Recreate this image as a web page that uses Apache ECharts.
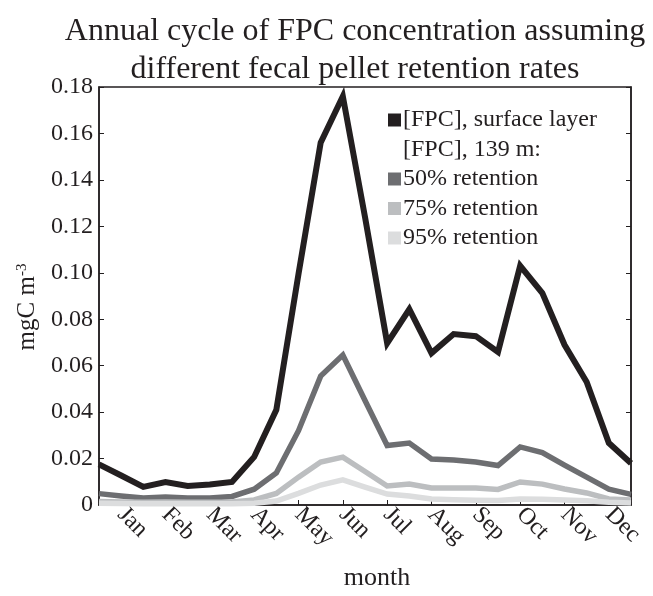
<!DOCTYPE html>
<html>
<head>
<meta charset="utf-8">
<script src="https://cdn.jsdelivr.net/npm/echarts@6/dist/echarts.min.js"></script>
<style>
  html, body { margin: 0; padding: 0; background: #fff; }
  #chart { width: 653px; height: 596px; }
</style>
</head>
<body>
<div id="chart"></div>
<script>
// half-month time steps (month number)
const time = [0.5, 1, 1.5, 2, 2.5, 3, 3.5, 4, 4.5, 5, 5.5, 6, 6.5, 7, 7.5, 8, 8.5, 9, 9.5, 10, 10.5, 11, 11.5, 12, 12.5]
const months = ['Jan', 'Feb', 'Mar', 'Apr', 'May', 'Jun', 'Jul', 'Aug', 'Sep', 'Oct', 'Nov', 'Dec']
const monthTicks = [1, 2, 3, 4, 5, 6, 7, 8, 9, 10, 11, 12]

const surface = [0.0175, 0.0127, 0.0078, 0.0099, 0.0082, 0.0088, 0.0099, 0.0207, 0.041, 0.0995, 0.156, 0.176, 0.124,
  0.0697, 0.0843, 0.0654, 0.0736, 0.0727, 0.0659, 0.103, 0.0913, 0.069, 0.053, 0.0267, 0.018]
const retain50 = [0.0049, 0.0039, 0.003, 0.0034, 0.003, 0.003, 0.0037, 0.0068, 0.0138, 0.032, 0.0555, 0.0646, 0.045,
  0.0256, 0.0267, 0.0198, 0.0194, 0.0185, 0.017, 0.025, 0.0226, 0.0172, 0.012, 0.0068, 0.0046]
const retain75 = [0.0015, 0.0013, 0.0012, 0.0013, 0.0012, 0.0012, 0.0013, 0.0022, 0.005, 0.012, 0.0185, 0.0206, 0.0144,
  0.0082, 0.009, 0.0073, 0.0073, 0.0073, 0.0067, 0.0099, 0.009, 0.0069, 0.0052, 0.0026, 0.0022]
const retain95 = [0.0007, 0.0006, 0.0005, 0.0005, 0.0005, 0.0005, 0.0005, 0.0008, 0.0017, 0.005, 0.0086, 0.0108, 0.0077,
  0.0047, 0.0039, 0.0026, 0.0023, 0.002, 0.0019, 0.0026, 0.0025, 0.0022, 0.0018, 0.0012, 0.0009]

const seriesNames = ['[FPC], surface layer', '[FPC], 139 m:', '50% retention', '75% retention', '95% retention']
const colors = ['#231f20', 'rgba(0,0,0,0)', '#6d6e71', '#bcbec0', '#dcddde']

const font = 'Liberation Serif'
const ink = '#231f20'

function pairs(ys) {
  return time.map((t, i) => [t, ys[i]])
}

const chart = echarts.init(document.getElementById('chart'), null, { renderer: 'canvas' })

const lineSeries = (name, ys, color, width) => ({
  name: name,
  type: 'line',
  data: pairs(ys),
  showSymbol: false,
  symbol: 'none',
  lineStyle: { color: color, width: width, join: 'miter' },
  itemStyle: { color: color },
  animation: false
})

chart.setOption({
  backgroundColor: '#fff',
  title: {
    text: 'Annual cycle of FPC concentration assuming\ndifferent fecal pellet retention rates',
    left: 350,
    textAlign: 'center',
    top: 8,
    textStyle: { fontFamily: font, fontSize: 32, fontWeight: 'normal', color: ink, lineHeight: 38 }
  },
  legend: {
    orient: 'vertical',
    left: 383,
    top: 103,
    icon: 'rect',
    itemWidth: 13,
    itemHeight: 13,
    itemGap: 5.5,
    selectedMode: false,
    data: seriesNames.map((n, i) => ({ name: n, itemStyle: { color: colors[i] } })),
    textStyle: { fontFamily: font, fontSize: 24, color: ink, lineHeight: 24, padding: [0, 0, 0, -3] }
  },
  grid: {
    left: 99, right: 22, top: 87, bottom: 91,
    show: true,
    borderColor: ink,
    borderWidth: 1.5,
    backgroundColor: 'transparent'
  },
  xAxis: {
    type: 'value',
    min: 0.5,
    max: 12.5,
    name: 'month',
    nameLocation: 'middle',
    nameGap: 60,
    nameTextStyle: { fontFamily: font, fontSize: 26, color: ink, padding: [0, 0, 0, 24] },
    axisLine: { show: true, lineStyle: { color: ink, width: 1.5 } },
    axisTick: { show: true, inside: true, length: 5, customValues: monthTicks, lineStyle: { color: ink, width: 1 } },
    axisLabel: {
      customValues: monthTicks,
      rotate: -45,
      margin: 6,
      fontFamily: font,
      fontSize: 24,
      color: ink,
      formatter: v => months[Math.round(v) - 1]
    },
    splitLine: { show: false }
  },
  yAxis: [
    {
      type: 'value',
      min: 0,
      max: 0.18,
      interval: 0.02,
      name: '{a|mgC m}{s|-3}',
      nameLocation: 'middle',
      nameGap: 56,
      nameTextStyle: {
        fontFamily: font, fontSize: 25, color: ink,
        padding: [0, 22, 0, 0],
        rich: {
          a: { fontFamily: font, fontSize: 25, color: ink },
          s: { fontFamily: font, fontSize: 15, color: ink, verticalAlign: 'bottom', padding: [0, 0, 12, 0] }
        }
      },
      axisLine: { show: true, lineStyle: { color: ink, width: 1.5 } },
      axisTick: { show: true, inside: true, length: 5, lineStyle: { color: ink, width: 1 } },
      axisLabel: {
        margin: 6,
        fontFamily: font,
        fontSize: 24,
        color: ink,
        formatter: v => (v === 0 ? '0' : v.toFixed(2))
      },
      splitLine: { show: false }
    },
    {
      type: 'value',
      position: 'right',
      min: 0,
      max: 0.18,
      interval: 0.02,
      axisLine: { show: true, lineStyle: { color: ink, width: 1.5 } },
      axisTick: { show: true, inside: true, length: 5, lineStyle: { color: ink, width: 1 } },
      axisLabel: { show: false },
      splitLine: { show: false }
    }
  ],
  series: [
    lineSeries(seriesNames[0], surface, colors[0], 6),
    { name: seriesNames[1], type: 'line', data: [], itemStyle: { color: colors[1] }, lineStyle: { color: colors[1] } },
    lineSeries(seriesNames[2], retain50, colors[2], 5.5),
    lineSeries(seriesNames[3], retain75, colors[3], 5.5),
    lineSeries(seriesNames[4], retain95, colors[4], 5.5)
  ],
  animation: false
})

window.addEventListener('resize', () => chart.resize())
</script>
</body>
</html>
